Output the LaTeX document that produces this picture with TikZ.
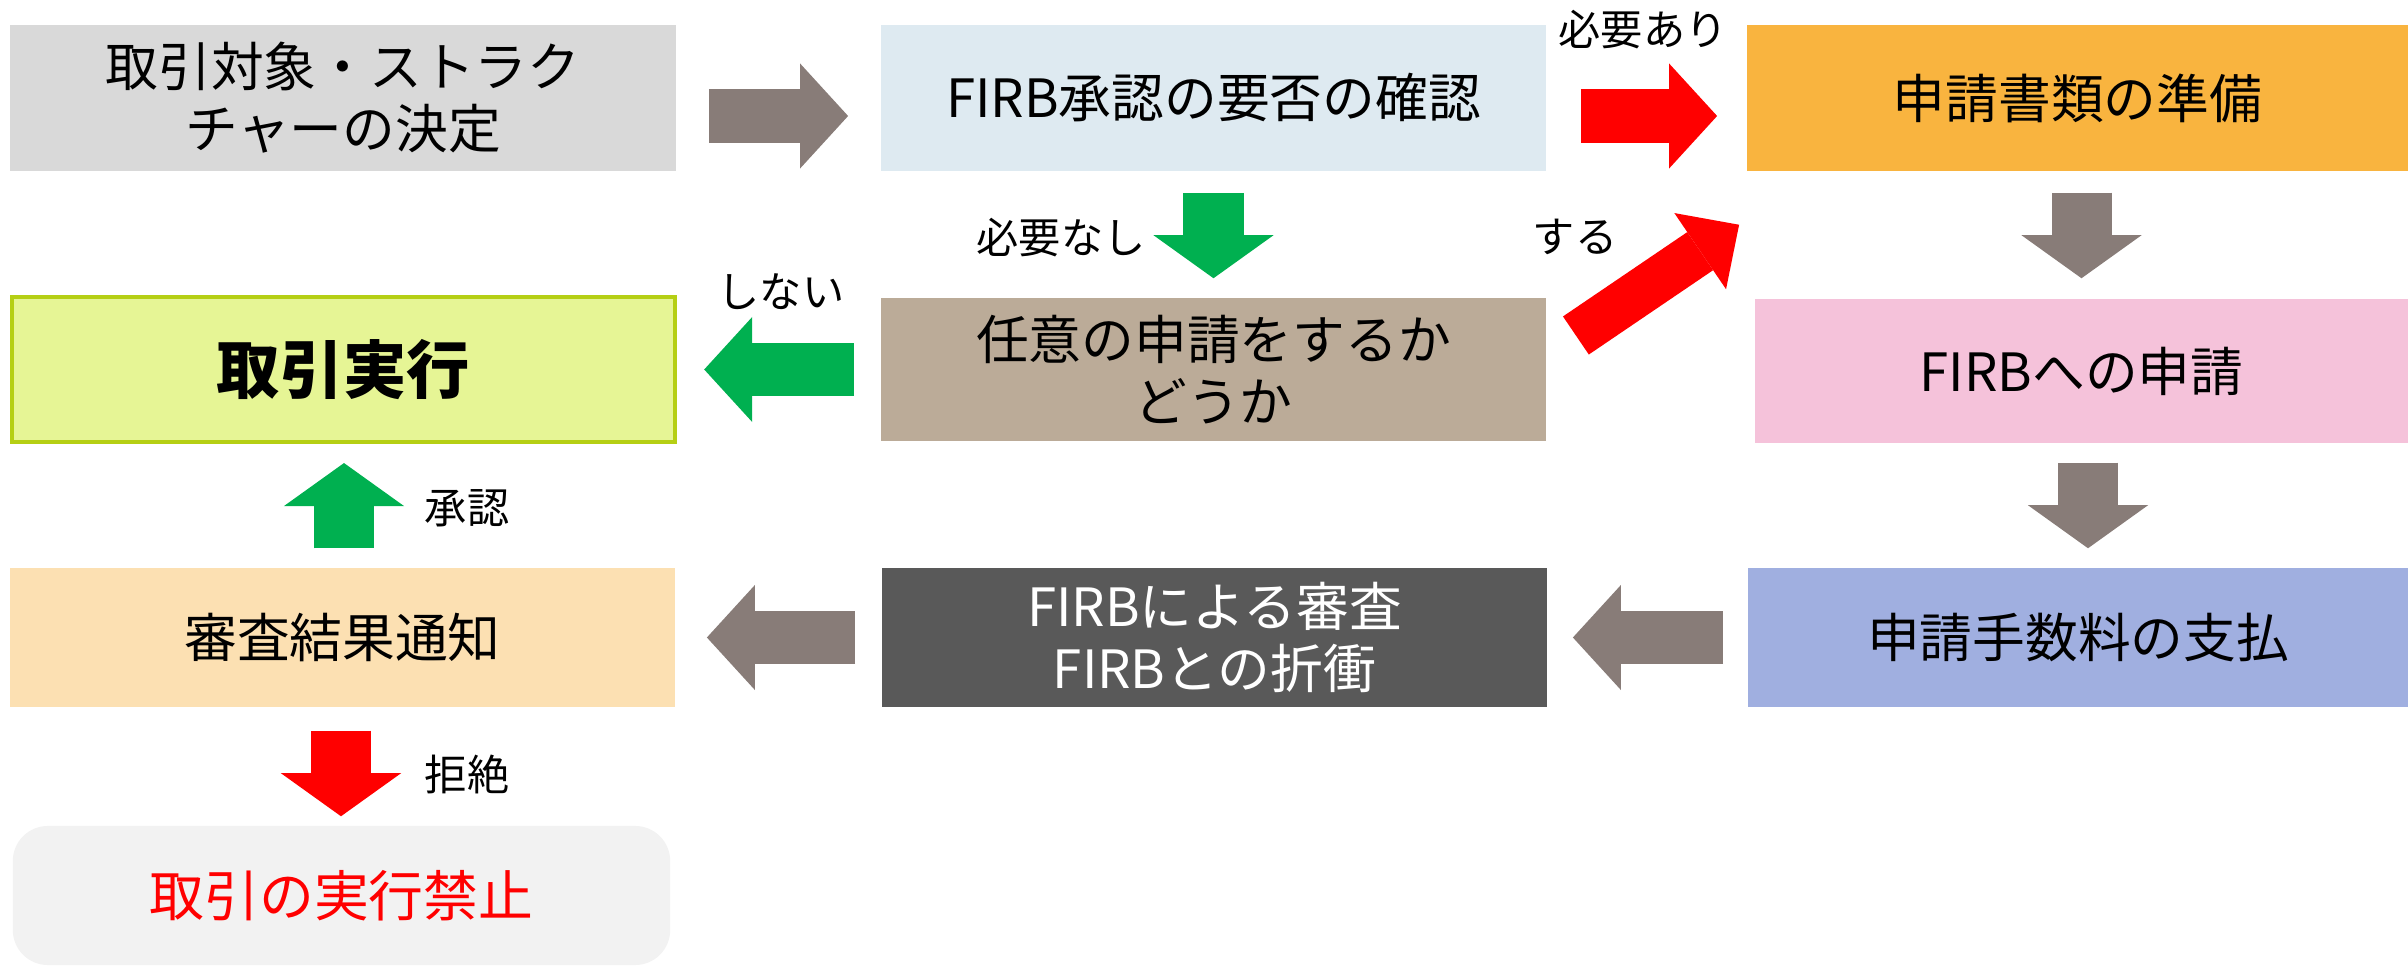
\documentclass[tikz,border=0pt]{standalone}
\usepackage{fontspec}
\setmainfont{Noto Sans CJK JP}
\usetikzlibrary{arrows.meta}
\definecolor{cArrow}{HTML}{887C78}
\definecolor{cGo}{HTML}{00B050}
\definecolor{cStop}{HTML}{FF0000}
\definecolor{cDecide}{HTML}{D9D9D9}
\definecolor{cCheck}{HTML}{DEEAF1}
\definecolor{cPrepare}{HTML}{F9B43F}
\definecolor{cExec}{HTML}{E6F595}
\definecolor{cExecLine}{HTML}{B5CF14}
\definecolor{cOption}{HTML}{BBAB98}
\definecolor{cApply}{HTML}{F5C2DA}
\definecolor{cNotify}{HTML}{FCE0B2}
\definecolor{cReview}{HTML}{595959}
\definecolor{cFee}{HTML}{A0AFE0}
\definecolor{cBan}{HTML}{F2F2F2}
\begin{document}
\begin{tikzpicture}[x=0.01cm, y=-0.01cm,
  flowbox/.style={rectangle, inner sep=0pt, align=center, font=\fontsize{15pt}{17.6pt}\selectfont},
  harrow/.style={line width=0.53cm, -{Triangle[width=1.05cm,length=0.48cm,line width=0pt]}},
  varrow/.style={line width=0.60cm, -{Triangle[width=1.20cm,length=0.43cm,line width=0pt]}},
  darrow/.style={line width=0.46cm, -{Triangle[width=0.92cm,length=0.47cm,line width=0pt]}},
  note/.style={font=\fontsize{12pt}{14pt}\selectfont}]
\useasboundingbox (0,0) rectangle (2408,967);

\node[flowbox, fill=cDecide, minimum width=6.66cm, minimum height=1.46cm] (decide) at (343,98) {取引対象・ストラク\\チャーの決定};
\node[flowbox, fill=cCheck, minimum width=6.65cm, minimum height=1.46cm] (check) at (1213.5,98) {FIRB承認の要否の確認};
\node[flowbox, fill=cPrepare, minimum width=6.61cm, minimum height=1.46cm] (prepare) at (2077.5,98) {申請書類の準備};

\node[flowbox, fill=cExec, draw=cExecLine, line width=0.04cm, minimum width=6.63cm, minimum height=1.44cm, font=\bfseries\fontsize{18pt}{21pt}\selectfont] (execute) at (343.5,369.5) {取引実行};
\node[flowbox, fill=cOption, minimum width=6.65cm, minimum height=1.43cm] (optional) at (1213.5,369.5) {任意の申請をするか\\どうか};
\node[flowbox, fill=cApply, minimum width=6.53cm, minimum height=1.44cm] (apply) at (2081.5,371) {FIRBへの申請};

\node[flowbox, fill=cNotify, minimum width=6.65cm, minimum height=1.39cm] (notify) at (342.5,637.5) {審査結果通知};
\node[flowbox, fill=cReview, text=white, minimum width=6.65cm, minimum height=1.39cm] (review) at (1214.5,637.5) {FIRBによる審査\\FIRBとの折衝};
\node[flowbox, fill=cFee, minimum width=6.60cm, minimum height=1.39cm] (fee) at (2078,637.5) {申請手数料の支払};

\node[flowbox, fill=cBan, text=cStop, rounded corners=0.35cm, minimum width=6.57cm, minimum height=1.39cm, font=\fontsize{15.6pt}{18pt}\selectfont] (ban) at (341.5,895.5) {取引の実行禁止};

\draw[harrow, cArrow] ([shift={(32,18)}]decide.east) -- ([shift={(-32,18)}]check.west);
\draw[harrow, cStop] ([shift={(34,18)}]check.east) -- ([shift={(-29,18)}]prepare.west);
\draw[varrow, cGo] ([yshift=-0.21cm]check.south) -- ([yshift=0.19cm]optional.north);
\draw[varrow, cArrow] ([shift={(4,21)}]prepare.south) -- ([shift={(0,-20)}]apply.north);
\draw[darrow, cStop] ([shift={(29,-34)}]optional.east) -- ([shift={(-7,53)}]prepare.south west);
\draw[harrow, cGo] ([shift={(-26,0)}]optional.west) -- ([shift={(27,0)}]execute.east);
\draw[varrow, cArrow] ([shift={(6.5,19)}]apply.south) -- ([shift={(10,-19)}]fee.north);
\draw[harrow, cArrow] ([shift={(-24,0)}]fee.west) -- ([shift={(25,0)}]review.east);
\draw[harrow, cArrow] ([shift={(-26,0)}]review.west) -- ([shift={(31,0)}]notify.east);
\draw[varrow, cGo] ([shift={(1.5,-19)}]notify.north) -- ([shift={(0.5,19.5)}]execute.south);
\draw[varrow, cStop] ([shift={(-1.5,23)}]notify.south) -- ([shift={(-0.5,-9)}]ban.north);

\node[note] (needyes) at (1643,30) {必要あり};
\node[note] (needno) at (1061,238) {必要なし};
\node[note] (doapply) at (1575,237) {する};
\node[note] (noapply) at (781,292) {しない};
\node[note] (approve) at (467,508) {承認};
\node[note] (reject) at (467,774) {拒絶};
\end{tikzpicture}
\end{document}
